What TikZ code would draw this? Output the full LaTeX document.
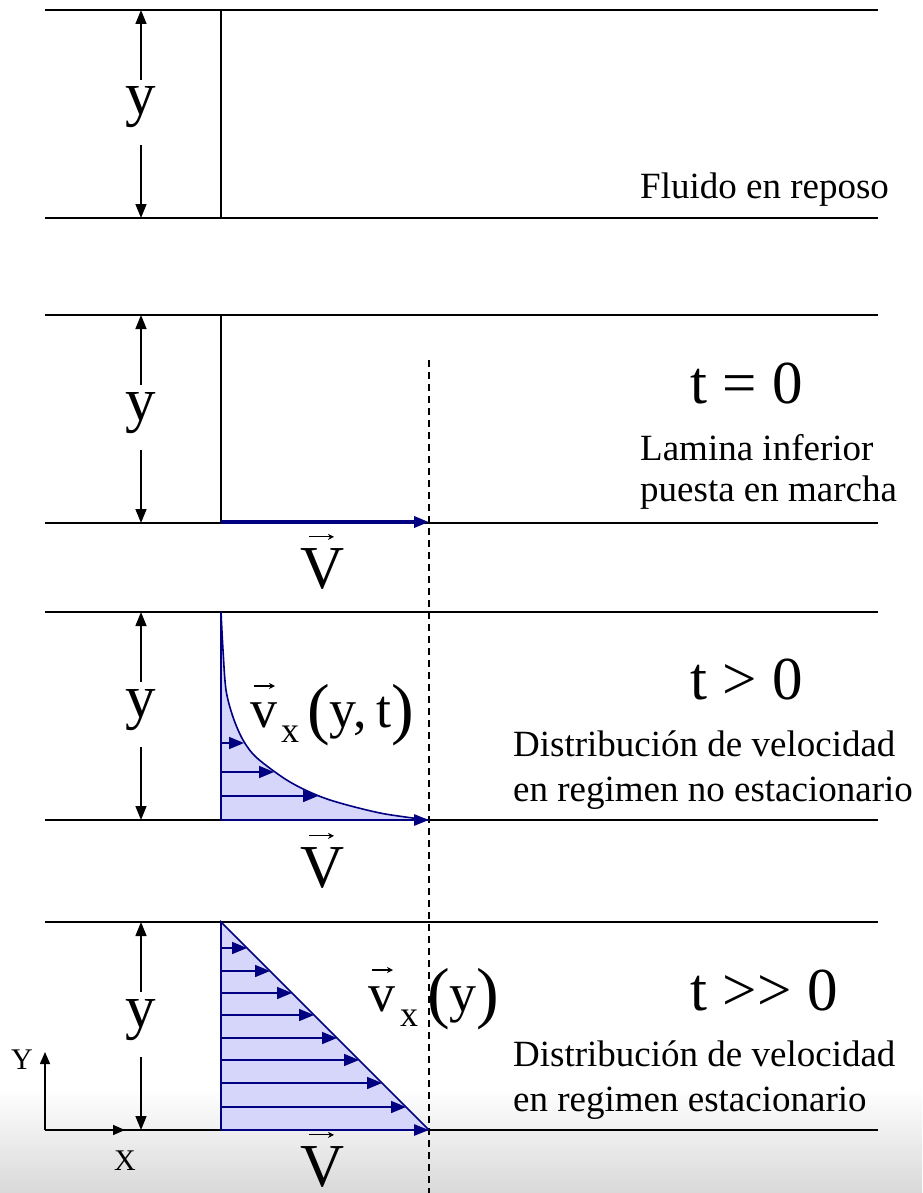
\documentclass[tikz,border=0pt]{standalone}
\usepackage{fontspec}
\setmainfont{Liberation Serif}
\usetikzlibrary{arrows.meta,calc}
\definecolor{prof}{RGB}{0,0,128}
\definecolor{proffill}{RGB}{214,214,250}
\begin{document}
\begin{tikzpicture}[x=1pt,y=-1pt,
  wall/.style={line width=1.6pt},
  dimarrow/.style={line width=1.5pt,-{Triangle[length=14pt,width=11pt]}},
  axisarrow/.style={line width=1.5pt,-{Triangle[length=12pt,width=10pt]}},
  profline/.style={prof,line width=1.6pt},
  profarrow/.style={prof,line width=1.6pt,-{Triangle[length=15pt,width=12pt]}},
  basearrow/.style={prof,line width=2.8pt,-{Triangle[length=15pt,width=11pt]}},
  vecacc/.style={line width=1.1pt,-{Stealth[length=6pt,width=6pt]}},
  lbl/.style={font=\fontsize{37}{44}\selectfont,inner sep=0pt,anchor=base west},
  big/.style={font=\fontsize{61}{70}\selectfont,inner sep=0pt,anchor=base},
  small/.style={font=\fontsize{30}{36}\selectfont,inner sep=0pt},
  eq/.style={inner sep=0pt,anchor=base west},
]
\useasboundingbox (0,0) rectangle (922,1193);
\shade[top color=white,bottom color=gray!30] (0,1088) rectangle (922,1193);

% panel walls and dimension arrows
\foreach \t/\n in {10/a,315/b,612/c,922/d}{
  \coordinate (top\n) at (45,\t);
  \coordinate (bot\n) at (45,\t+208);
  \draw[wall] (top\n) -- ++(833,0);
  \draw[wall] (bot\n) -- ++(833,0);
  \coordinate (dimtop\n) at (141,\t);
  \coordinate (dimbot\n) at (141,\t+208);
  \draw[dimarrow] ($(dimtop\n)+(0,70)$) -- (dimtop\n);
  \draw[dimarrow] ($(dimtop\n)+(0,135)$) -- (dimbot\n);
  \node[big] (y\n) at ($(dimtop\n)+(0,105)$) {y};
}

% dashed reference line
\coordinate (dashtop) at (429,360);
\coordinate (dashbot) at (429,1193);
\draw[line width=1.3pt,dash pattern=on 7pt off 5pt] (dashtop) -- (dashbot);

% panel 1
\draw[wall] (221,10) -- (221,218);
\node[lbl] (fluido) at (640,198) {Fluido en reposo};

% panel 2
\draw[wall] (221,315) -- (221,522);
\coordinate (p2a) at (221,522);
\coordinate (p2b) at (429,522);
\draw[prof,line width=3.4pt,-{Triangle[length=15pt,width=11pt]}] (p2a) -- (p2b);
\node[big] (V2) at (323,588) {V};
\draw[vecacc] ($(V2.north)+(-14,-11)$) -- ($(V2.north)+(11,-11)$);
\node[big,anchor=base west] (t2) at (690,403) {t = 0};
\node[lbl] (lam1) at (640,460) {Lamina inferior};
\node[lbl] (lam2) at (640,501) {puesta en marcha};

% panel 3
\fill[proffill] plot[smooth] coordinates {(221,612) (223,650) (226,690) (233,717) (243,740) (257,758) (290,782) (327,799) (380,813) (429,820)} -- (221,820) -- cycle;
\draw[profline] plot[smooth] coordinates {(221,612) (223,650) (226,690) (233,717) (243,740) (257,758) (290,782) (327,799) (380,813) (429,820)};
\draw[profline] (221,612) -- (221,820);
\draw[profarrow] (221,743) -- (244,743);
\draw[profarrow] (221,772) -- (274,772);
\draw[profarrow] (221,796) -- (318,796);
\draw[basearrow] (221,820) -- (429,820);
\node[big] (V3) at (323,887) {V};
\draw[vecacc] ($(V3.north)+(-14,-11)$) -- ($(V3.north)+(11,-11)$);
\node[eq] (vxyt) at (250,727) {\fontsize{54}{60}\selectfont v\hspace{4pt}\raisebox{-15pt}{\fontsize{36}{40}\selectfont x}\hspace{8pt}\raisebox{-4pt}{\fontsize{68}{70}\selectfont(}y,\hspace{10pt}t\raisebox{-4pt}{\fontsize{68}{70}\selectfont)}};
\draw[vecacc] ($(vxyt.base west)+(4,-41)$) -- ($(vxyt.base west)+(25,-41)$);
\node[big,anchor=base west] (t3) at (690,699) {t > 0};
\node[lbl] (d3a) at (513,756) {Distribución de velocidad};
\node[lbl] (d3b) at (513,801) {en regimen no estacionario};

% panel 4
\coordinate (tri1) at (221,922);
\coordinate (tri2) at (429,1130);
\coordinate (tri3) at (221,1130);
\fill[proffill] (tri1) -- (tri2) -- (tri3) -- cycle;
\draw[profline] (tri3) -- (tri1) -- (tri2);
\foreach \yy in {948,971,993,1015,1038,1060,1083,1107}{
  \draw[profarrow] (221,\yy) -- (221+\yy-922,\yy);
}
\draw[basearrow] (tri3) -- (tri2);
\node[big] (V4) at (323,1186) {V};
\draw[vecacc] ($(V4.north)+(-14,-11)$) -- ($(V4.north)+(11,-11)$);
\node[eq] (vxy) at (368,1011) {\fontsize{54}{60}\selectfont v\hspace{5pt}\raisebox{-15pt}{\fontsize{36}{40}\selectfont x}\hspace{9pt}\raisebox{-4pt}{\fontsize{68}{70}\selectfont(}y\raisebox{-4pt}{\fontsize{68}{70}\selectfont)}};
\draw[vecacc] ($(vxy.base west)+(4,-41)$) -- ($(vxy.base west)+(25,-41)$);
\node[big,anchor=base west] (t4) at (690,1010) {t >\kern1pt> 0};
\node[lbl] (d4a) at (513,1066) {Distribución de velocidad};
\node[lbl] (d4b) at (513,1111) {en regimen estacionario};

% axes
\coordinate (O) at (45,1130);
\coordinate (Yend) at (45,1052);
\coordinate (Xend) at (125,1130);
\draw[axisarrow] (O) -- (Yend);
\draw[axisarrow] (O) -- (Xend);
\node[small] (Ylab) at (22,1060) {Y};
\node[small] (Xlab) at (125,1161) {X};
\end{tikzpicture}
\end{document}
